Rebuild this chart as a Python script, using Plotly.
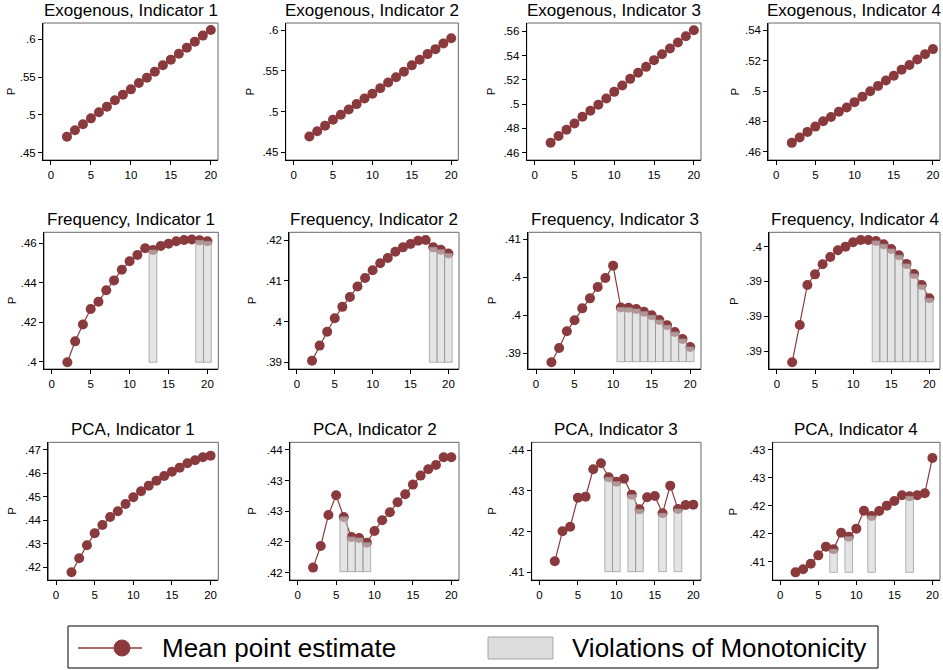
import plotly.graph_objects as go

# ---------------- data ----------------
x_vals = list(range(2, 21))

titles = [
    "Exogenous, Indicator 1", "Exogenous, Indicator 2", "Exogenous, Indicator 3", "Exogenous, Indicator 4",
    "Frequency, Indicator 1", "Frequency, Indicator 2", "Frequency, Indicator 3", "Frequency, Indicator 4",
    "PCA, Indicator 1", "PCA, Indicator 2", "PCA, Indicator 3", "PCA, Indicator 4",
]

exo1 = [0.4712, 0.4796, 0.4875, 0.4954, 0.5034, 0.5109, 0.5193, 0.5268, 0.5338, 0.5422,
        0.5493, 0.5572, 0.5656, 0.5731, 0.5810, 0.5890, 0.5969, 0.6049, 0.6124]
exo2 = [0.4695, 0.4760, 0.4829, 0.4902, 0.4963, 0.5028, 0.5093, 0.5163, 0.5220, 0.5289,
        0.5358, 0.5423, 0.5492, 0.5569, 0.5638, 0.5707, 0.5768, 0.5837, 0.5902]
exo3 = [0.4682, 0.4737, 0.4789, 0.4841, 0.4896, 0.4945, 0.4995, 0.5047, 0.5101, 0.5153,
        0.5208, 0.5258, 0.5307, 0.5362, 0.5411, 0.5458, 0.5507, 0.5559, 0.5608]
exo4 = [0.4659, 0.4694, 0.4731, 0.4766, 0.4801, 0.4829, 0.4864, 0.4892, 0.4927, 0.4962,
        0.4999, 0.5034, 0.5069, 0.5101, 0.5141, 0.5171, 0.5208, 0.5243, 0.5276]
freq1 = [0.3997, 0.4103, 0.4188, 0.4267, 0.4304, 0.4362, 0.4412, 0.4466, 0.4509, 0.4541,
         0.4575, 0.4566, 0.4586, 0.4598, 0.4610, 0.4617, 0.4619, 0.4615, 0.4610]
freq2 = [0.3904, 0.3941, 0.3975, 0.4008, 0.4036, 0.4060, 0.4086, 0.4107, 0.4126, 0.4143,
         0.4156, 0.4171, 0.4182, 0.4190, 0.4198, 0.4200, 0.4182, 0.4176, 0.4167]
freq3 = [0.38877, 0.39066, 0.39286, 0.39431, 0.39589, 0.39721, 0.39871, 0.39989, 0.40152, 0.39600,
         0.39596, 0.39580, 0.39545, 0.39497, 0.39435, 0.39365, 0.39277, 0.39185, 0.39079]
freq4 = [0.38669, 0.38937, 0.39225, 0.39301, 0.39373, 0.39426, 0.39474, 0.39500, 0.39531, 0.39548,
         0.39548, 0.39541, 0.39517, 0.39483, 0.39438, 0.39376, 0.39304, 0.39225, 0.39129]
pca1 = [0.41787, 0.42384, 0.42938, 0.43449, 0.43804, 0.44145, 0.44386, 0.44699, 0.44983, 0.45239,
        0.45480, 0.45693, 0.45892, 0.46077, 0.46247, 0.46432, 0.46560, 0.46688, 0.46759]
pca2 = [0.41582, 0.41935, 0.42440, 0.42761, 0.42408, 0.42082, 0.42065, 0.41989, 0.42179, 0.42353,
        0.42484, 0.42647, 0.42777, 0.42935, 0.43082, 0.43185, 0.43255, 0.43380, 0.43382]
pca3 = [0.41270, 0.42006, 0.42120, 0.42832, 0.42856, 0.43527, 0.43674, 0.43330, 0.43224, 0.43298,
        0.42905, 0.42545, 0.42840, 0.42872, 0.42447, 0.43126, 0.42554, 0.42652, 0.42660]
pca4 = [0.40809, 0.40863, 0.40964, 0.41113, 0.41269, 0.41221, 0.41519, 0.41448, 0.41591, 0.41913,
        0.41818, 0.41907, 0.42003, 0.42087, 0.42188, 0.42170, 0.42188, 0.42224, 0.42857]

series = [exo1, exo2, exo3, exo4, freq1, freq2, freq3, freq4, pca1, pca2, pca3, pca4]

# x positions flagged as violations of monotonicity, and the bottom of their bars
violations = [
    [], [], [], [],
    [13, 19, 20], [18, 19, 20], [11, 12, 13, 14, 15, 16, 17, 18, 19, 20], [13, 14, 15, 16, 17, 18, 19, 20],
    [], [6, 7, 8, 9], [9, 10, 12, 13, 16, 18], [7, 9, 12, 17],
]
bar_base = [None, None, None, None, 0.3997, 0.3900, 0.38886, 0.38673, None, 0.41516, 0.41016, 0.40809]

x_ticks = [0, 5, 10, 15, 20]
y_tickvals = [
    [0.45, 0.5, 0.55, 0.6], [0.45, 0.5, 0.55, 0.6],
    [0.46, 0.48, 0.5, 0.52, 0.54, 0.56], [0.46, 0.48, 0.5, 0.52, 0.54],
    [0.4, 0.42, 0.44, 0.46], [0.39, 0.4, 0.41, 0.42],
    [0.39, 0.395, 0.4, 0.405], [0.3875, 0.39, 0.3925, 0.395],
    [0.42, 0.43, 0.44, 0.45, 0.46, 0.47], [0.415, 0.42, 0.425, 0.43, 0.435],
    [0.41, 0.42, 0.43, 0.44], [0.41, 0.415, 0.42, 0.425, 0.43],
]
y_ticktext = [
    [".45", ".5", ".55", ".6"], [".45", ".5", ".55", ".6"],
    [".46", ".48", ".5", ".52", ".54", ".56"], [".46", ".48", ".5", ".52", ".54"],
    [".4", ".42", ".44", ".46"], [".39", ".4", ".41", ".42"],
    [".39", ".4", ".4", ".41"], [".39", ".39", ".39", ".4"],
    [".42", ".43", ".44", ".45", ".46", ".47"], [".42", ".42", ".43", ".43", ".44"],
    [".41", ".42", ".43", ".44"], [".41", ".42", ".42", ".43", ".43"],
]

legend_labels = ["Mean point estimate", "Violations of Monotonicity"]

# ---------------- layout geometry (pixels) ----------------
W, H = 943, 670
y_ranges = [
    [0.4403, 0.6216], [0.4407, 0.6089], [0.4540, 0.5668], [0.4546, 0.5448],
    [0.39628, 0.46558], [0.38836, 0.42189], [0.38789, 0.40592], [0.38621, 0.39603],
    [0.41460, 0.47327], [0.41380, 0.43625], [0.40812, 0.44189], [0.40672, 0.43137],
]
x_ranges = [[-1, 20.9]] * 4 + [[-1, 21.4]] * 4 + [[-1, 21.0]] * 4
lefts = [[43, 285.7, 526.7, 768.3], [44, 289.3, 528.3, 769.3], [48.3, 290, 531.7, 772.7]]
rights = [[218, 458.3, 701, 940], [218.3, 459, 701, 940], [218.3, 459, 701, 940]]
tops = [23, 232.3, 442.3]
bottoms = [160, 369, 580]
p_label_x = [[11.7, 250, 491.7, 735], [11.7, 251.7, 491.7, 733.3], [11.7, 251.7, 491.7, 733.3]]

MAROON = "#8a3a3d"
FONT = "Liberation Sans, Arial, Helvetica, sans-serif"
TICK_SIZE = 11.5

fig = go.Figure()
layout = dict(
    width=W, height=H, margin=dict(l=0, r=0, t=0, b=0),
    paper_bgcolor="white", plot_bgcolor="white", showlegend=False,
    font=dict(family=FONT, color="black"),
)
shapes = []
annotations = []

for i in range(12):
    r, c = divmod(i, 4)
    xa = "x" if i == 0 else f"x{i+1}"
    ya = "y" if i == 0 else f"y{i+1}"
    xkey = "xaxis" if i == 0 else f"xaxis{i+1}"
    ykey = "yaxis" if i == 0 else f"yaxis{i+1}"
    ys = series[i]

    fig.add_trace(go.Scatter(
        x=x_vals, y=ys, mode="lines+markers", xaxis=xa, yaxis=ya,
        line=dict(color=MAROON, width=1.2),
        marker=dict(color=MAROON, size=10),
        hoverinfo="skip",
    ))

    if violations[i]:
        bx, by = [], []
        for v in violations[i]:
            val = ys[x_vals.index(v)]
            b = bar_base[i]
            bx += [v - 0.5, v - 0.5, v + 0.5, v + 0.5, v - 0.5, None]
            by += [b, val, val, b, b, None]
        fig.add_trace(go.Scatter(
            x=bx, y=by, mode="lines", fill="toself", xaxis=xa, yaxis=ya,
            fillcolor="rgba(210,210,210,0.6)",
            line=dict(color="rgba(150,150,150,0.7)", width=1),
            hoverinfo="skip",
        ))

    L, R = lefts[r][c], rights[r][c]
    T, B = tops[r], bottoms[r]
    layout[xkey] = dict(
        domain=[L / W, R / W], anchor=ya, range=x_ranges[i],
        tickvals=x_ticks, ticks="outside", ticklen=4, tickwidth=1, tickcolor="black",
        showline=True, linecolor="black", linewidth=1, showgrid=False, zeroline=False,
        tickfont=dict(size=TICK_SIZE, family=FONT, color="black"),
    )
    layout[ykey] = dict(
        domain=[1 - B / H, 1 - T / H], anchor=xa, range=y_ranges[i],
        tickvals=y_tickvals[i], ticktext=y_ticktext[i],
        ticks="outside", ticklen=4, tickwidth=1, tickcolor="black",
        showline=True, linecolor="black", linewidth=1, showgrid=False, zeroline=False,
        tickfont=dict(size=TICK_SIZE, family=FONT, color="black"),
    )
    shapes.append(dict(type="rect", xref=f"{xa} domain", yref=f"{ya} domain",
                       x0=0, x1=1, y0=0, y1=1, line=dict(color="#666666", width=1),
                       layer="below"))
    annotations.append(dict(
        text=titles[i], xref="paper", yref="paper", x=(L + R) / 2 / W, y=1 - (T - 1.0) / H,
        xanchor="center", yanchor="bottom", showarrow=False,
        font=dict(size=17, family=FONT, color="black"),
    ))
    annotations.append(dict(
        text="P", xref="paper", yref="paper", x=p_label_x[r][c] / W, y=1 - (T + B) / 2 / H,
        xanchor="center", yanchor="middle", textangle=-90, showarrow=False,
        font=dict(size=TICK_SIZE, family=FONT, color="black"),
    ))

# ---------------- legend (drawn in paper space) ----------------
def px(xp):
    return xp / W

def py(yp):
    return 1 - yp / H

shapes.append(dict(type="rect", xref="paper", yref="paper", x0=px(68), x1=px(878),
                   y0=py(668), y1=py(626), line=dict(color="black", width=1), fillcolor="white"))
shapes.append(dict(type="line", xref="paper", yref="paper", x0=px(78), x1=px(142),
                   y0=py(648), y1=py(648), line=dict(color=MAROON, width=1.5)))
shapes.append(dict(type="circle", xref="paper", yref="paper", x0=px(114), x1=px(130),
                   y0=py(656), y1=py(640), line=dict(color=MAROON, width=1), fillcolor=MAROON))
shapes.append(dict(type="rect", xref="paper", yref="paper", x0=px(488), x1=px(553),
                   y0=py(659), y1=py(637), line=dict(color="rgba(150,150,150,0.8)", width=1),
                   fillcolor="rgba(220,220,220,1)"))
annotations.append(dict(text=legend_labels[0], xref="paper", yref="paper", x=px(160), y=py(648),
                        xanchor="left", yanchor="middle", showarrow=False,
                        font=dict(size=26, family=FONT, color="black")))
annotations.append(dict(text=legend_labels[1], xref="paper", yref="paper", x=px(570), y=py(648),
                        xanchor="left", yanchor="middle", showarrow=False,
                        font=dict(size=26, family=FONT, color="black")))

layout["shapes"] = shapes
layout["annotations"] = annotations
fig.update_layout(**layout)
fig.write_html("out.html")
